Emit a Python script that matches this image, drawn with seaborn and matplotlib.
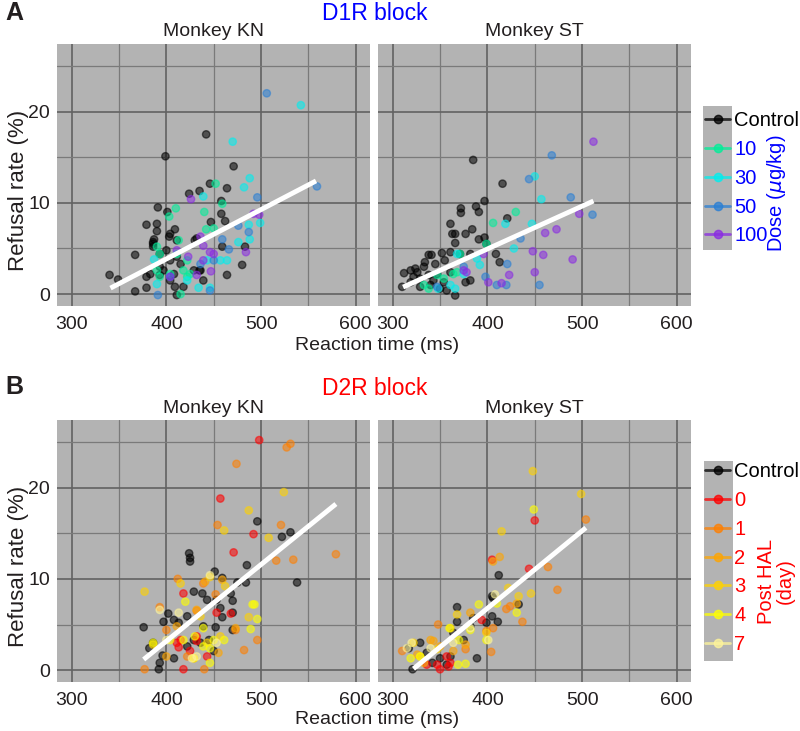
import pandas as pd
import matplotlib
matplotlib.use("Agg")
import matplotlib.pyplot as plt
import seaborn as sns
from matplotlib.lines import Line2D
from matplotlib.patches import Rectangle

sns.set_style("white")
plt.rcParams['font.family'] = ['Liberation Sans', 'DejaVu Sans']

# ---- Panel A: D1R block, (reaction time ms, refusal rate %) ----
d1_kn_control = [(442, 17.5), (399, 15.1), (471, 14.0), (446, 12.1), (464, 11.6), (424, 11.0),
                 (435, 11.3), (458, 10.2), (391, 9.5), (401, 9.0), (458, 8.8), (447, 7.9),
                 (462, 8.0), (379, 7.6), (390, 7.7), (390, 6.9), (409, 7.1), (387, 6.0),
                 (386, 5.5), (403, 6.3), (411, 5.9), (367, 4.3), (386, 5.2), (393, 4.4),
                 (400, 4.8), (411, 4.1), (404, 3.7), (415, 3.3), (340, 2.1), (349, 1.6),
                 (367, 0.3), (379, 0.7), (379, 1.9), (383, 2.2), (393, 3.0), (397, 2.6),
                 (408, 2.2), (409, 0.8), (418, 0.8), (411, -0.1), (429, 2.6), (435, 2.6),
                 (459, 5.2), (480, 3.2), (464, 2.1), (483, 5.2), (432, 6.1), (430, 5.9),
                 (404, 6.6), (386, 5.7), (393, 2.1), (404, 1.5), (439, 1.5), (436, 2.6)]
d1_kn_10 = [(452, 12.1), (459, 9.9), (410, 9.4), (440, 9.0), (403, 8.5), (442, 7.1), (450, 7.2),
            (413, 5.9), (390, 5.2), (393, 4.4), (411, 4.4), (422, 3.7), (390, 2.6), (393, 1.9),
            (404, 2.2), (418, 2.6), (422, 1.9), (415, 0.0), (425, 2.2)]
d1_kn_30 = [(542, 20.7), (470, 16.7), (488, 12.7), (482, 11.7), (439, 10.7), (499, 7.8), (487, 7.6),
            (488, 6.0), (476, 5.7), (387, 3.8), (390, 1.1), (422, 1.5), (434, 0.7), (446, 0.7),
            (457, 3.7), (464, 3.7), (443, 3.7)]
d1_kn_50 = [(506, 22.0), (559, 11.8), (496, 10.6), (487, 6.8), (476, 7.5), (459, 6.0), (466, 4.9),
            (450, 3.7), (446, 0.4), (391, -0.1), (404, 1.9), (436, 3.3)]
d1_kn_100 = [(426, 10.4), (498, 8.7), (492, 8.8), (484, 4.6), (446, 4.6), (450, 4.4), (439, 5.3),
             (436, 6.3), (411, 4.8), (423, 4.1), (439, 3.7), (447, 2.5), (432, 2.1), (404, 1.9)]

d1_st_control = [(385, 14.7), (416, 12.1), (397, 10.2), (372, 9.4), (372, 8.9), (388, 9.6),
                 (391, 9.0), (421, 8.3), (361, 7.7), (363, 6.6), (366, 6.6), (377, 6.6),
                 (384, 7.1), (391, 6.0), (397, 6.2), (366, 5.6), (409, 4.4), (413, 3.5),
                 (338, 4.3), (341, 4.3), (352, 4.5), (361, 4.6), (371, 4.4), (382, 4.4),
                 (334, 3.5), (345, 3.3), (355, 3.7), (312, 2.3), (319, 2.6), (326, 2.4),
                 (333, 3.0), (322, 1.9), (329, 1.7), (338, 2.1), (347, 2.2), (361, 2.4),
                 (310, 0.8), (319, 1.3), (329, 0.8), (340, 1.0), (350, 0.6), (357, 0.4),
                 (366, -0.15), (377, 1.3), (382, 1.5), (399, 5.5), (324, 2.8), (343, 1.5),
                 (354, 1.3)]
d1_st_10 = [(430, 9.0), (406, 7.8), (399, 5.5), (371, 4.4), (364, 2.2), (347, 2.1), (338, 0.6),
            (333, 1.0), (354, 1.7), (368, 2.4)]
d1_st_30 = [(450, 12.9), (457, 10.4), (419, 7.7), (447, 7.7), (428, 5.0), (392, 3.2), (389, 3.9),
            (375, 2.2), (366, 0.6), (361, 1.0), (348, 0.6), (368, 4.4)]
d1_st_50 = [(468, 15.2), (444, 12.6), (488, 10.6), (511, 8.7), (435, 6.1), (421, 3.3), (398, 1.9),
            (410, 1.0), (420, 1.0), (455, 1.0), (347, 0.8), (375, 3.0)]
d1_st_100 = [(512, 16.7), (497, 8.8), (473, 7.1), (461, 6.7), (448, 4.7), (459, 4.3), (490, 3.8),
             (450, 2.4), (423, 2.1), (401, 1.3), (415, 1.2), (378, 2.4), (375, 2.6), (396, 4.4)]

# ---- Panel B: D2R block ----
d2_kn_control = [(496, 16.3), (531, 15.1), (522, 14.6), (424, 12.8), (425, 12.3), (425, 11.9),
                 (485, 11.5), (538, 9.6), (451, 10.8), (459, 10.1), (475, 9.6), (484, 9.6),
                 (429, 8.6), (438, 8.4), (443, 7.7), (453, 7.7), (457, 6.8), (468, 8.4),
                 (470, 7.6), (459, 5.8), (470, 6.3), (402, 6.2), (397, 5.3), (408, 5.5),
                 (422, 5.9), (376, 4.7), (452, 4.7), (470, 4.4), (382, 2.4), (386, 3.0),
                 (396, 1.6), (393, 0.8), (392, 0.1), (408, 1.3), (422, 2.6), (429, 3.3),
                 (436, 3.0), (445, 3.3), (450, 2.1), (413, 5.2), (439, 4.8)]
d2_kn_0 = [(498, 25.2), (457, 18.8), (492, 14.9), (471, 12.9), (418, 8.4), (468, 6.2), (415, 3.3),
           (413, 2.5), (425, 2.1), (432, 3.7), (432, 3.2), (443, 1.5), (418, 0.1), (411, 3.0),
           (453, 6.3)]
d2_kn_1 = [(474, 22.6), (527, 24.4), (531, 24.8), (521, 15.9), (454, 15.9), (579, 12.7), (516, 12.0),
           (534, 12.1), (412, 10.0), (393, 6.9), (432, 6.5), (496, 3.3), (482, 2.2), (473, 4.4),
           (400, 4.4), (377, 0.1), (440, 0.1), (439, 9.5), (452, 8.3), (422, 1.5)]
d2_kn_2 = [(441, 9.7), (459, 9.9), (411, 4.8), (400, 1.5), (432, 6.6), (455, 1.9), (429, 1.3),
           (473, 4.6)]
d2_kn_3 = [(524, 19.5), (461, 15.3), (487, 17.5), (508, 14.5), (377, 8.6), (415, 9.5), (446, 10.2),
           (462, 9.2), (487, 5.8), (457, 3.7), (443, 3.0), (436, 5.9), (386, 2.8)]
d2_kn_4 = [(491, 7.2), (493, 7.2), (496, 5.6), (489, 4.5), (420, 7.5), (439, 4.6), (450, 3.3),
           (461, 3.3), (430, 3.7), (418, 3.3), (439, 2.6), (446, 2.4), (429, 1.3), (446, 0.8),
           (404, 3.3), (386, 3.0)]
d2_kn_7 = [(446, 10.4), (400, 3.3), (427, 1.3), (432, 1.5), (453, 3.0), (393, 6.6), (413, 6.3)]

d2_st_control = [(412, 10.4), (405, 8.1), (406, 7.9), (368, 6.9), (368, 5.3), (385, 5.7), (399, 5.2),
                 (411, 5.3), (405, 5.9), (364, 4.1), (382, 4.8), (329, 3.0), (317, 2.4), (336, 1.9),
                 (350, 1.3), (361, 1.5), (389, 1.3), (321, 0.1), (342, 0.8), (357, 0.6), (375, 3.3),
                 (433, 7.2)]
d2_st_0 = [(450, 16.4), (405, 12.1), (444, 11.1), (394, 5.5), (350, 0.1), (359, 0.4), (347, 0.6),
           (336, 0.6), (357, 1.5), (361, 0.8)]
d2_st_1 = [(504, 16.5), (464, 11.3), (474, 8.8), (437, 5.3), (420, 6.7), (424, 7.0), (406, 4.6),
           (399, 4.3), (404, 2.0), (377, 2.3), (348, 5.0), (310, 2.1)]
d2_st_2 = [(413, 12.4), (406, 11.9), (382, 6.3), (377, 2.8), (340, 3.3), (343, 3.2), (333, 0.8),
           (326, 1.7), (364, 2.1), (431, 7.3), (350, 2.6)]
d2_st_3 = [(448, 21.8), (499, 19.3), (415, 15.2), (422, 9.0), (446, 8.4), (433, 8.1), (399, 4.1),
           (368, 6.1), (361, 4.6), (329, 1.5), (347, 2.3), (322, 3.0)]
d2_st_4 = [(449, 17.6), (391, 7.2), (410, 7.3), (382, 4.4), (360, 4.6), (370, 3.3), (329, 1.5),
           (319, 1.3), (377, 0.7), (369, 0.6), (399, 3.3), (431, 6.3)]
d2_st_7 = [(408, 8.3), (382, 4.6), (320, 3.0), (315, 2.4), (364, 3.0), (340, 2.4), (401, 3.3)]

# regression line end points (rt, rate)
d1_kn_fit_x, d1_kn_fit_y = [341, 558], [0.66, 12.4]
d1_st_fit_x, d1_st_fit_y = [311, 512], [0.77, 10.2]
d2_kn_fit_x, d2_kn_fit_y = [376, 579], [1.17, 18.2]
d2_st_fit_x, d2_st_fit_y = [322, 504], [0.15, 15.6]

dose_levels = ['Control', '10', '30', '50', '100']
dose_colors = ['#000000', '#00ee99', '#00eeee', '#2a7fd4', '#8a2be2']
day_levels = ['Control', '0', '1', '2', '3', '4', '7']
day_colors = ['#000000', '#ff0000', '#ff7f00', '#ffa500', '#ffd200', '#ffff00', '#fff59a']

x_major = [300, 400, 500, 600]
x_minor = [350, 450, 550]
y_major = [0, 10, 20]
y_minor = [5, 15, 25]

TXT = '#231f20'


def to_frame(groups, levels):
    rows = []
    for lvl, pts in zip(levels, groups):
        for rt, rate in pts:
            rows.append((rt, rate, lvl))
    return pd.DataFrame(rows, columns=['rt', 'rate', 'group'])


def draw_panel(ax, df, levels, colors, fit_x, fit_y, title, show_y):
    ax.set_facecolor('#b3b3b3')
    ax.set_axisbelow(True)
    sns.scatterplot(data=df, x='rt', y='rate', hue='group', hue_order=levels,
                    palette=dict(zip(levels, colors)), s=28, alpha=0.55,
                    edgecolor='face', linewidth=1.0, legend=False, ax=ax, zorder=3)
    sns.lineplot(x=fit_x, y=fit_y, color='white', lw=3.5, ax=ax, zorder=4,
                 solid_capstyle='butt')
    ax.set_xlim(284.5, 615)
    ax.set_ylim(-1.3, 27.4)
    ax.set_xticks(x_major)
    ax.set_xticks(x_minor, minor=True)
    ax.set_yticks(y_major)
    ax.set_yticks(y_minor, minor=True)
    ax.grid(which='major', color='#626262', lw=1.2)
    ax.grid(which='minor', color='#7a7a7a', lw=0.9)
    for sp in ax.spines.values():
        sp.set_visible(False)
    ax.tick_params(which='minor', length=0)
    ax.tick_params(axis='x', which='major', direction='out', length=4, width=1,
                   color='#555555', labelsize=14, labelcolor=TXT, pad=3)
    if show_y:
        ax.tick_params(axis='y', which='major', direction='out', length=4, width=1,
                       color='#555555', labelsize=14, labelcolor=TXT, pad=1)
    else:
        ax.tick_params(axis='y', which='major', length=0, labelleft=False)
    ax.set_xlabel('')
    ax.set_ylabel('')
    ax.text(0.5, 1 + 12 / 262, title, transform=ax.transAxes, ha='center',
            va='center', fontsize=14, color=TXT)


def add_legend(fig, levels, colors, text_color, rect, top):
    fig.add_artist(Rectangle((rect[0], rect[1]), rect[2], rect[3], transform=fig.transFigure,
                             facecolor='#b3b3b3', edgecolor='none', zorder=0))
    handles = [Line2D([0], [0], color=c, lw=2, marker='o', markersize=6, alpha=0.75)
               for c in colors]
    leg = fig.legend(handles, levels, loc='upper left', bbox_to_anchor=(705 / 800, top),
                     frameon=False, fontsize=14.5, handlelength=1.25, handletextpad=0.2,
                     labelspacing=0.49, borderpad=0, borderaxespad=0)
    for i, t in enumerate(leg.get_texts()):
        t.set_color('black' if i == 0 else text_color)
    return leg


fig = plt.figure(figsize=(8, 7.31), dpi=100)

panels = [
    (0.5814, [d1_kn_control, d1_kn_10, d1_kn_30, d1_kn_50, d1_kn_100],
     [d1_st_control, d1_st_10, d1_st_30, d1_st_50, d1_st_100],
     dose_levels, dose_colors, (d1_kn_fit_x, d1_kn_fit_y), (d1_st_fit_x, d1_st_fit_y)),
    (0.0670, [d2_kn_control, d2_kn_0, d2_kn_1, d2_kn_2, d2_kn_3, d2_kn_4, d2_kn_7],
     [d2_st_control, d2_st_0, d2_st_1, d2_st_2, d2_st_3, d2_st_4, d2_st_7],
     day_levels, day_colors, (d2_kn_fit_x, d2_kn_fit_y), (d2_st_fit_x, d2_st_fit_y)),
]

for bottom, kn, st, levels, colors, kn_fit, st_fit in panels:
    ax1 = fig.add_axes([57 / 800, bottom, 313 / 800, 262 / 731])
    ax2 = fig.add_axes([378 / 800, bottom, 313 / 800, 262 / 731])
    draw_panel(ax1, to_frame(kn, levels), levels, colors, kn_fit[0], kn_fit[1], 'Monkey KN', True)
    draw_panel(ax2, to_frame(st, levels), levels, colors, st_fit[0], st_fit[1], 'Monkey ST', False)

# panel labels and headings
fig.text(5 / 800, 1 - 13 / 731, 'A', fontsize=18, fontweight='bold', color=TXT, va='center')
fig.text(5 / 800, 1 - 387 / 731, 'B', fontsize=18, fontweight='bold', color=TXT, va='center')
fig.text(374.5 / 800, 1 - 13 / 731, 'D1R block', fontsize=16.5, color='#0000ff', ha='center', va='center')
fig.text(374.5 / 800, 1 - 388 / 731, 'D2R block', fontsize=16.5, color='#ff0000', ha='center', va='center')
for yc in [346, 720]:
    fig.text(377 / 800, 1 - yc / 731, 'Reaction time (ms)', fontsize=14, color=TXT,
             ha='center', va='center')
for yc in [190, 566]:
    fig.text(19 / 800, 1 - yc / 731, 'Refusal rate (%)', fontsize=16, color=TXT,
             ha='center', va='center', rotation=90)

add_legend(fig, dose_levels, dose_colors, '#0000ff', [703 / 800, 1 - 250 / 731, 29 / 800, 144 / 731],
           1 - 111 / 731)
fig.text(777 / 800, 1 - 193 / 731, r'Dose ($\mu$g/kg)', fontsize=14.5, color='#0000ff',
         ha='center', va='center', rotation=90)
add_legend(fig, day_levels, day_colors, '#ff0000', [704 / 800, 1 - 661 / 731, 29 / 800, 200 / 731],
           1 - 462 / 731)
fig.text(776 / 800, 1 - 581 / 731, 'Post HAL\n(day)', fontsize=14.5, color='#ff0000',
         ha='center', va='center', rotation=90, linespacing=1.0)

fig.savefig('out.png', dpi=100)
